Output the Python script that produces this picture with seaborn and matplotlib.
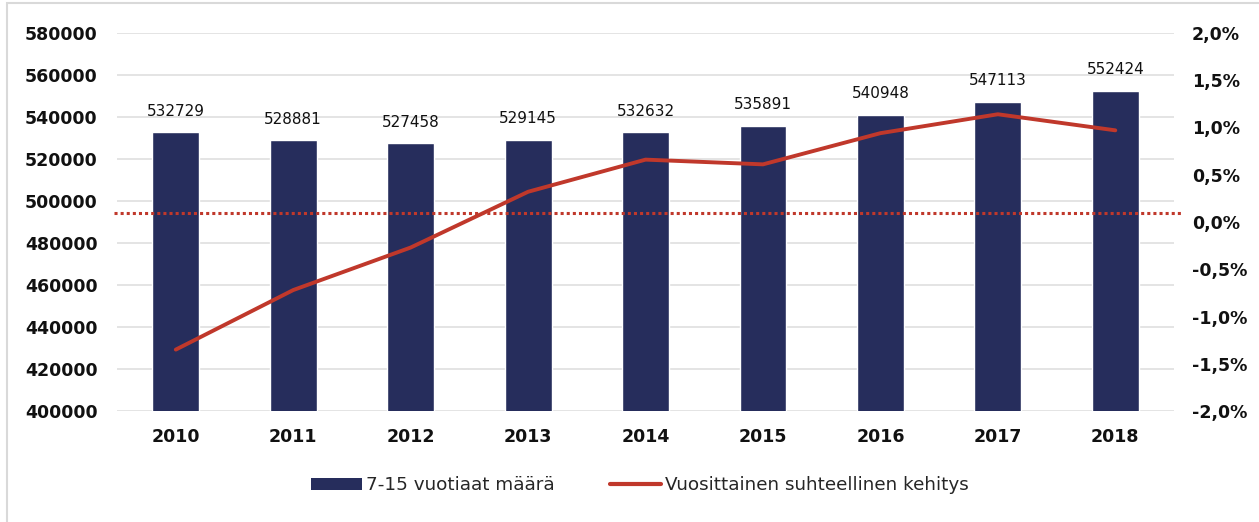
import numpy as np
import pandas as pd
import matplotlib
matplotlib.use("Agg")
import matplotlib.pyplot as plt
import seaborn as sns
from matplotlib.lines import Line2D
from matplotlib.patches import Patch, Rectangle

years = ["2010", "2011", "2012", "2013", "2014", "2015", "2016", "2017", "2018"]
counts = [532729, 528881, 527458, 529145, 532632, 535891, 540948, 547113, 552424]
growth = [-1.35, -0.72, -0.27, 0.32, 0.66, 0.61, 0.94, 1.14, 0.97]  # percent
ref_level = 0.1  # dotted reference line, percent

bar_color = "#262D5C"
line_color = "#C0382B"
grid_color = "#DCDCDC"

df = pd.DataFrame({"year": years, "count": counts, "growth": growth})

sns.set_theme(style="white")
plt.rcParams["font.family"] = ["DejaVu Sans"]

fig = plt.figure(figsize=(12.59, 5.22), dpi=100)
ax = fig.add_axes([0.093, 0.2126, 0.8395, 0.7242])

sns.barplot(data=df, x="year", y="count", color=bar_color, width=0.4,
            saturation=1, ax=ax, zorder=2)
ax.set_ylim(400000, 580000)
ax.set_yticks(np.arange(400000, 580001, 20000))
ax.set_xlim(-0.5, len(years) - 0.5)
ax.grid(axis="y", color=grid_color, linewidth=1.1, zorder=0)
ax.set_axisbelow(True)
for s in ax.spines.values():
    s.set_visible(False)
ax.tick_params(axis="y", length=0, pad=14, labelsize=12.5)
ax.tick_params(axis="x", length=0, pad=12, labelsize=12.5)
for lab in ax.get_yticklabels() + ax.get_xticklabels():
    lab.set_fontweight("bold")
    lab.set_color("#111111")
ax.set_xlabel("")
ax.set_ylabel("")

for i, v in enumerate(counts):
    ax.text(i, v + 6500, str(v), ha="center", va="bottom", fontsize=11, color="#111111")

ax2 = ax.twinx()
ax2.axhline(ref_level, xmin=-0.003, xmax=1.008, clip_on=False, color=line_color,
            linewidth=2.2, linestyle=(0, (1, 1)), zorder=3)
sns.lineplot(x=np.arange(len(years)), y=df["growth"], color=line_color, linewidth=2.8,
             ax=ax2, zorder=4, solid_capstyle="round")
ax2.set_ylim(-2.0, 2.0)
ax2.set_yticks(np.arange(-2.0, 2.01, 0.5))
ax2.set_yticklabels([f"{t:.1f}%".replace(".", ",") for t in np.arange(-2.0, 2.01, 0.5)])
ax2.set_ylabel("")
ax2.grid(False)
for s in ax2.spines.values():
    s.set_visible(False)
ax2.tick_params(axis="y", length=0, pad=13, labelsize=12.5)
for lab in ax2.get_yticklabels():
    lab.set_fontweight("bold")
    lab.set_color("#111111")

handles = [Patch(facecolor=bar_color, edgecolor="none"),
           Line2D([0], [0], color=line_color, linewidth=3)]
fig.legend(handles, ["7-15 vuotiaat määrä", "Vuosittainen suhteellinen kehitys"],
           loc="center", bbox_to_anchor=(0.508, 0.07), ncol=2, frameon=False,
           fontsize=13.2, handlelength=2.8, handleheight=0.6, handletextpad=0.2,
           columnspacing=3.0)

fig.patches.append(Rectangle((7 / 1259, -0.05), 1.2, 1 - 3 / 522 + 0.05,
                             transform=fig.transFigure, fill=False,
                             edgecolor="#D9D9D9", linewidth=1.5))

fig.savefig("out.png", dpi=100)
